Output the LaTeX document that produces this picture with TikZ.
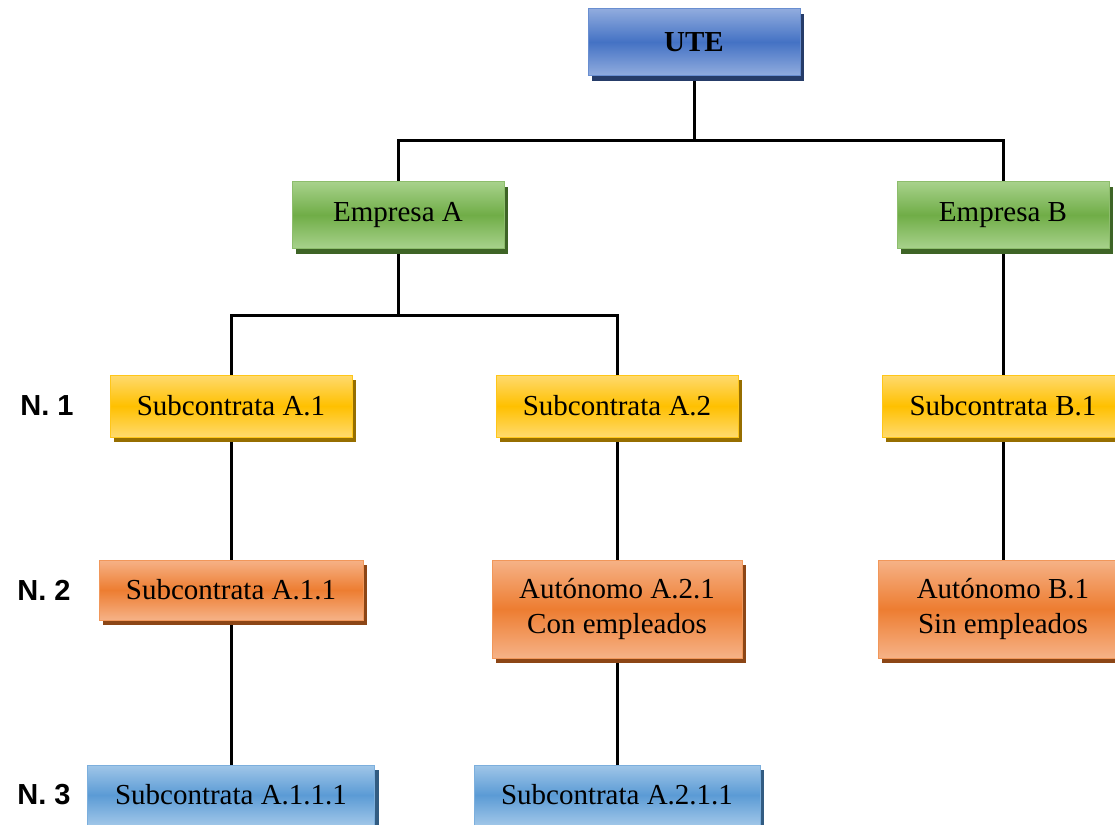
\documentclass[tikz,border=0pt]{standalone}
\usepackage{fontspec}
\setmainfont{Liberation Serif}
\newfontfamily\lvlfont{Liberation Sans}
\usetikzlibrary{shadows}
\usetikzlibrary{backgrounds}

\definecolor{bluM}{RGB}{68,114,196}
\definecolor{bluL}{RGB}{145,172,222}
\definecolor{bluS}{RGB}{38,60,105}
\definecolor{grnM}{RGB}{112,173,71}
\definecolor{grnL}{RGB}{168,210,140}
\definecolor{grnS}{RGB}{62,100,38}
\definecolor{ylwM}{RGB}{255,192,0}
\definecolor{ylwL}{RGB}{255,218,110}
\definecolor{ylwS}{RGB}{150,110,0}
\definecolor{orgM}{RGB}{237,125,49}
\definecolor{orgL}{RGB}{246,178,135}
\definecolor{orgS}{RGB}{140,70,22}
\definecolor{lbuM}{RGB}{91,155,213}
\definecolor{lbuL}{RGB}{160,198,232}
\definecolor{lbuS}{RGB}{50,92,130}

\tikzset{bx/.style={rectangle,inner sep=0pt,align=center,line width=0.5pt,
font=\fontsize{14.5}{17.5}\selectfont}}
\tikzset{ute/.style={bx,draw=bluM!80,top color=bluL,bottom color=bluL,middle color=bluM,
drop shadow={shadow xshift=2pt,shadow yshift=-2.5pt,fill=bluS,opacity=1}}}
\tikzset{emp/.style={bx,draw=grnM!80,top color=grnL,bottom color=grnL,middle color=grnM,
drop shadow={shadow xshift=2pt,shadow yshift=-2.5pt,fill=grnS,opacity=1}}}
\tikzset{n1/.style={bx,draw=ylwM!90,top color=ylwL,bottom color=ylwL,middle color=ylwM,
drop shadow={shadow xshift=2pt,shadow yshift=-2.5pt,fill=ylwS,opacity=1}}}
\tikzset{n2/.style={bx,draw=orgM!80,top color=orgL,bottom color=orgL,middle color=orgM,
drop shadow={shadow xshift=2pt,shadow yshift=-2.5pt,fill=orgS,opacity=1}}}
\tikzset{n3/.style={bx,draw=lbuM!80,top color=lbuL,bottom color=lbuL,middle color=lbuM,
drop shadow={shadow xshift=2pt,shadow yshift=-2.5pt,fill=lbuS,opacity=1}}}
\tikzset{lvl/.style={font=\lvlfont\bfseries\fontsize{14.5}{16}\selectfont}}
\tikzset{ln/.style={line width=1.5pt}}

\begin{document}
\begin{tikzpicture}[x=0.5pt,y=-0.5pt]
\useasboundingbox (0,0) rectangle (1115,825);

\coordinate (barU) at (0,140);
\coordinate (barA) at (0,315);

\node [ute, minimum width=106pt, minimum height=33.5pt] (ute) at (694,42) {\textbf{UTE}};
\node [emp, minimum width=106pt, minimum height=33.5pt] (empa) at (398,215) {Empresa A};
\node [emp, minimum width=106pt, minimum height=33.5pt] (empb) at (1003,215) {Empresa B};

\node [n1, minimum width=121pt, minimum height=31pt] (sa1) at (231,406) {Subcontrata A.1};
\node [n1, minimum width=121pt, minimum height=31pt] (sa2) at (617,406) {Subcontrata A.2};
\node [n1, minimum width=121pt, minimum height=31pt] (sb1) at (1003,406) {Subcontrata B.1};

\node [n2, minimum width=132pt, minimum height=30pt] (sa11) at (231,590) {Subcontrata A.1.1};
\node [n2, minimum width=125pt, minimum height=49pt] (aa21) at (617,609) {Autónomo A.2.1\\Con empleados};
\node [n2, minimum width=125pt, minimum height=49pt] (ab1) at (1003,609) {Autónomo B.1\\Sin empleados};

\node [n3, minimum width=143.5pt, minimum height=30pt] (sa111) at (231,795) {Subcontrata A.1.1.1};
\node [n3, minimum width=143pt, minimum height=30pt] (sa211) at (617,795) {Subcontrata A.2.1.1};

\node [lvl] (l1) at (47,406) {N. 1};
\node [lvl] (l2) at (44,590) {N. 2};
\node [lvl] (l3) at (44,795) {N. 3};

% connectors go behind the boxes
\begin{scope}[on background layer]
\draw [ln] (ute) -- (ute |- barU) -| (empa);
\draw [ln] (ute |- barU) -| (empb);
\draw [ln] (empa) -- (empa |- barA) -| (sa1);
\draw [ln] (empa |- barA) -| (sa2);
\draw [ln] (empb) -- (sb1);
\draw [ln] (sa1) -- (sa11);
\draw [ln] (sa2) -- (aa21);
\draw [ln] (sb1) -- (ab1);
\draw [ln] (sa11) -- (sa111);
\draw [ln] (aa21) -- (sa211);
\end{scope}
\end{tikzpicture}
\end{document}
